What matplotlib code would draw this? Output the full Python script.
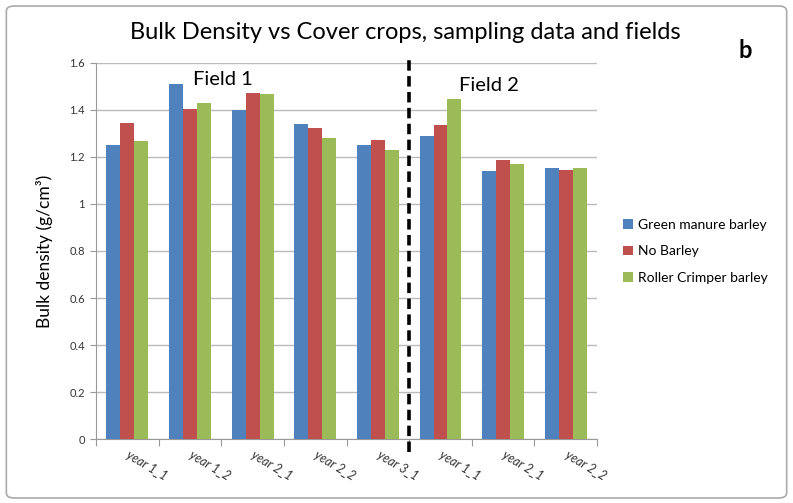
import matplotlib
matplotlib.use('agg')
import matplotlib.pyplot as plt
import numpy as np
from matplotlib.patches import FancyBboxPatch

plt.rcParams['font.family'] = ['Lato', 'DejaVu Sans']

categories = ['year 1_1', 'year 1_2', 'year 2_1', 'year 2_2', 'year 3_1',
              'year 1_1', 'year 2_1', 'year 2_2']
green_manure = [1.252, 1.511, 1.400, 1.340, 1.250, 1.291, 1.142, 1.155]
no_barley = [1.346, 1.404, 1.472, 1.323, 1.272, 1.337, 1.186, 1.143]
roller_crimper = [1.267, 1.428, 1.468, 1.280, 1.228, 1.448, 1.172, 1.152]

series = [('Green manure barley', green_manure, '#4F81BD'),
          ('No Barley', no_barley, '#C0504D'),
          ('Roller Crimper barley', roller_crimper, '#9BBB59')]

fig = plt.figure(figsize=(7.93, 5.03), dpi=100)
ax = fig.add_axes([0.121, 0.1272, 0.632, 0.7476])

x = np.arange(len(categories))
w = 0.223
for i, (name, vals, col) in enumerate(series):
    ax.bar(x + (i - 1) * w, vals, w, color=col, label=name, zorder=3)

ax.set_xlim(-0.5, len(categories) - 0.5)
ax.set_ylim(0, 1.6)
ax.set_yticks(np.arange(0, 1.61, 0.2))
ax.set_yticklabels(['0', '0.2', '0.4', '0.6', '0.8', '1', '1.2', '1.4', '1.6'],
                   fontsize=8, color='#333333')
ax.yaxis.grid(True, color='#BBBBBB', linewidth=1, zorder=0)
ax.tick_params(axis='y', length=4, color='#999999', pad=4)

# category ticks sit on the boundaries between groups
ax.set_xticks(np.arange(-0.5, len(categories), 1.0))
ax.set_xticklabels([])
ax.tick_params(axis='x', length=5, color='#999999')
for xi, lab in zip(x, categories):
    ax.text(xi, -0.065, lab, rotation=-31, rotation_mode='anchor',
            ha='left', va='center', fontsize=9, style='italic',
            color='#333333')

for s in ['top', 'right']:
    ax.spines[s].set_visible(False)
for s in ['left', 'bottom']:
    ax.spines[s].set_color('#999999')

# field separator
ax.plot([4.5, 4.5], [-0.055, 1.63], color='black', linestyle=(0, (2.9, 1.5)),
        linewidth=2.6, clip_on=False, zorder=4)
ax.text(1.53, 1.528, 'Field 1', fontsize=14.5, ha='center', va='center')
ax.text(5.78, 1.506, 'Field 2', fontsize=14.5, ha='center', va='center')

ax.set_ylabel('Bulk density (g/cm\u00b3)', fontsize=12.5, labelpad=12)

fig.text(0.511, 0.935, 'Bulk Density vs Cover crops, sampling data and fields',
         fontsize=17, ha='center', va='center')
fig.text(0.94, 0.9, 'b', fontsize=17, fontweight='bold', ha='center', va='center')

fig.legend(loc='center left', bbox_to_anchor=(0.77, 0.5), frameon=False,
           fontsize=10, handlelength=0.7, handleheight=0.7, handletextpad=0.4,
           labelspacing=1.05)

fig.patches.append(FancyBboxPatch((0.008, 0.01), 0.984, 0.978,
                                  boxstyle='round,pad=0,rounding_size=0.01',
                                  transform=fig.transFigure, fill=False,
                                  edgecolor='#AAAAAA', linewidth=1.2))

fig.savefig('out.png', dpi=100)
